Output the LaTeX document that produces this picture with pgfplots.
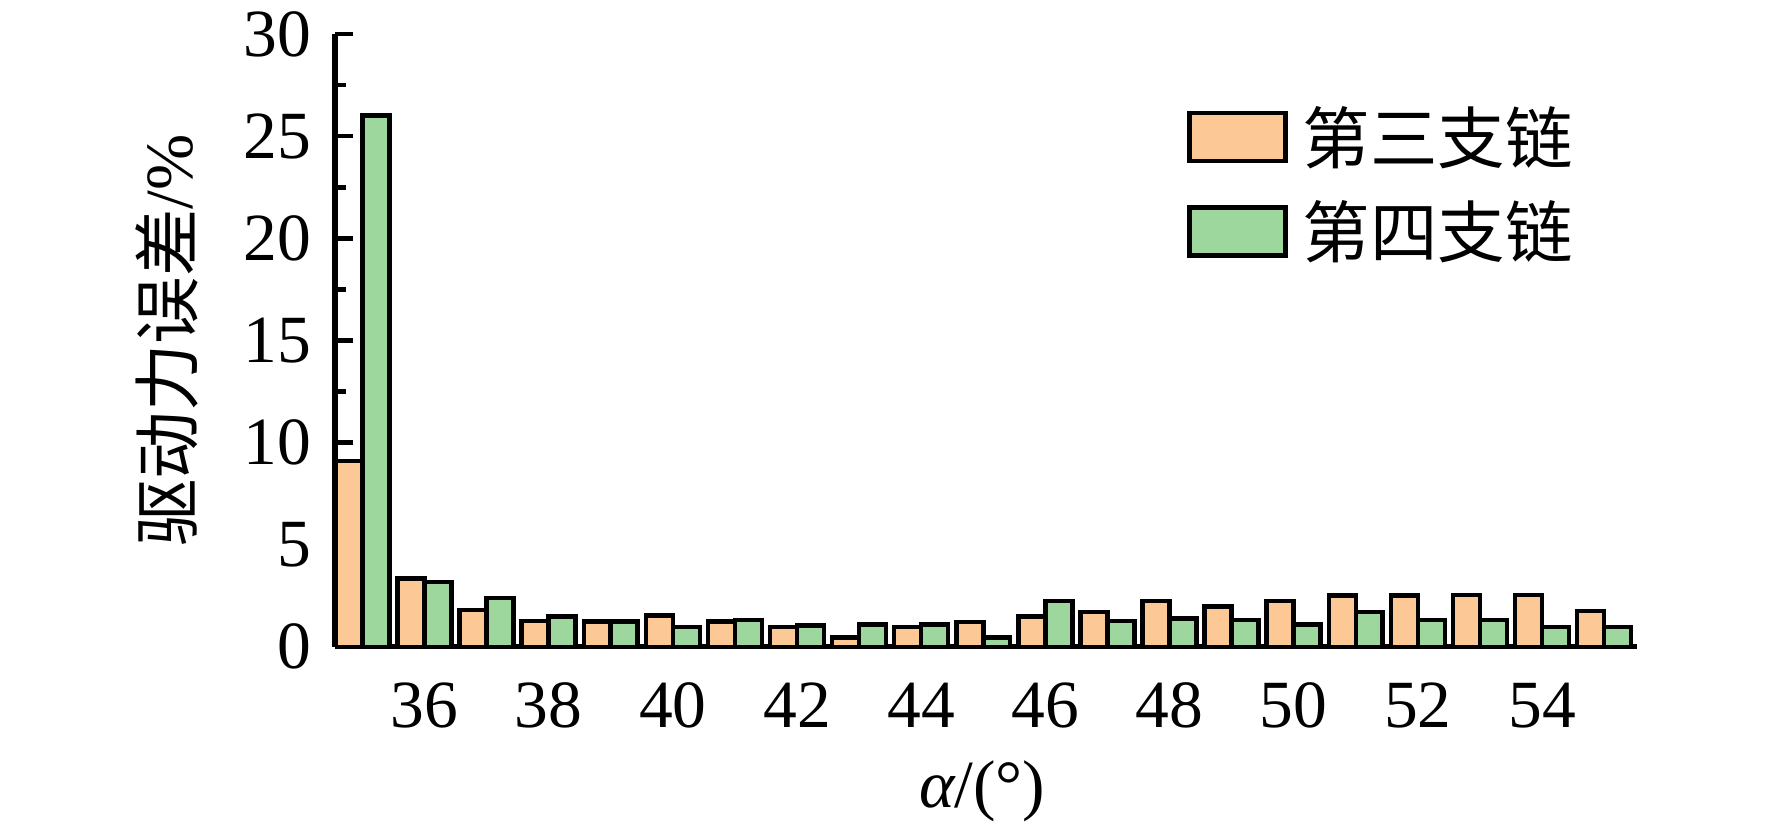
\documentclass[border=0pt]{standalone}
\usepackage{fontspec}
\setmainfont{Liberation Serif}
\newfontfamily\cjk{Noto Sans CJK SC}
\usepackage{pgfplots}
\pgfplotsset{compat=1.18}
\definecolor{cor}{RGB}{252,201,150}
\definecolor{cgr}{RGB}{157,215,157}
\newcommand{\fs}{\fontsize{22.5}{27}\selectfont}
\begin{document}
\begin{tikzpicture}
\path[use as bounding box] (-111.7pt,-61pt) rectangle (479pt,215.6pt);
\begin{axis}[
  scale only axis,
  width=434pt, height=204.3pt,
  xmin=34.56, xmax=55.53,
  ymin=0, ymax=30,
  axis lines*=left,
  axis line style={line width=1.8pt,-},
  xtick={36,38,...,54},
  ytick={0,5,...,30},
  minor y tick num=1,
  tick align=inside,
  x tick style={draw=none},
  y tick style={line width=1.6pt,black},
  major tick length=6pt,
  minor tick length=3.5pt,
  /pgf/number format/assume math mode=true,
  tick label style={font=\fs},
  xticklabel style={yshift=-2.5pt},
  yticklabel style={xshift=-4.5pt},
  ylabel={{\cjk 驱动力误差}/\%},
  ylabel style={font=\fs, at={(axis description cs:-0.129,0.5)}, anchor=center},
  xlabel={{\itshape α}/(°)},
  xlabel style={font=\fs, at={(axis description cs:0.497,-0.235)}, anchor=center},
  ybar,
  bar width=0.434,
  legend image code/.code={\draw[#1,draw=black,line width=1.5pt] (0pt,-8pt) rectangle (32pt,8pt);},
  legend style={draw=none, fill=none, inner sep=0pt, font=\cjk\fs,
    at={(0.654,0.893)}, anchor=north west, row sep=7pt},
  legend cell align=left,
]
\addplot[fill=cor, draw=black, line width=1.5pt, bar shift=-0.217] coordinates {
(35,9.1) (36,3.33) (37,1.81) (38,1.26) (39,1.24) (40,1.52) (41,1.24) (42,0.98)
(43,0.46) (44,0.98) (45,1.21) (46,1.48) (47,1.71) (48,2.23) (49,1.97) (50,2.23)
(51,2.50) (52,2.51) (53,2.54) (54,2.54) (55,1.75)};
\addlegendentry{\hspace*{3pt}第三支链}
\addplot[fill=cgr, draw=black, line width=1.5pt, bar shift=0.217] coordinates {
(35,26.0) (36,3.16) (37,2.38) (38,1.48) (39,1.24) (40,0.98) (41,1.32) (42,1.04)
(43,1.09) (44,1.09) (45,0.46) (46,2.23) (47,1.26) (48,1.39) (49,1.31) (50,1.09)
(51,1.70) (52,1.32) (53,1.32) (54,0.98) (55,0.98)};
\addlegendentry{\hspace*{3pt}第四支链}
\end{axis}
\end{tikzpicture}
\end{document}
